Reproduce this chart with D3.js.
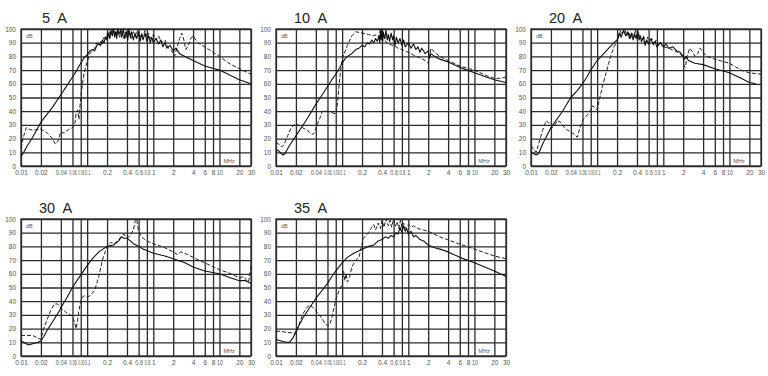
<!DOCTYPE html>
<html>
<head>
<meta charset="utf-8">
<script src="https://cdn.jsdelivr.net/npm/d3@7"></script>
<style>
  body { margin: 0; background: #fff; }
  svg { display: block; font-family: "Liberation Sans", Arial, sans-serif; }
</style>
</head>
<body>
<svg id="chart" width="768" height="376"></svg>
<script>
// titles of the five panels
var titles = ["5  A", "10  A", "20  A", "30  A", "35  A"];

// ticks on the axes
var xTicks = [0.01, 0.02, 0.04, 0.06, 0.08, 0.1, 0.2, 0.4, 0.6, 0.8, 1, 2, 4, 6, 8, 10, 20, 30];
var xTickLabels = ["0.01", "0.02", "0.04", "0.06", "0.08", "0.1", "0.2", "0.4", "0.6", "0.8", "1", "2", "4", "6", "8", "10", "20", "30"];
var yTicks = [0, 10, 20, 30, 40, 50, 60, 70, 80, 90, 100];

// [MHz, dB]
var solid5 = [[0.01,7],[0.011,10],[0.0125,15],[0.015,21],[0.02,32],[0.03,43],[0.04,52],[0.05,59],[0.06,65],[0.07,70],[0.08,75],[0.09,79],[0.1,81],[0.11,84],[0.12,85],[0.13,84],[0.14,88],[0.15,89],[0.16,88],[0.17,92],[0.18,90],[0.19,94],[0.2,92],[0.21,97],[0.22,93],[0.23,99],[0.24,95],[0.25,100],[0.26,94],[0.27,98],[0.28,93],[0.29,100],[0.3,96],[0.32,99],[0.33,94],[0.35,100],[0.37,93],[0.39,98],[0.41,92],[0.43,99],[0.45,94],[0.47,98],[0.5,92],[0.53,97],[0.56,93],[0.6,98],[0.63,91],[0.67,96],[0.7,92],[0.75,97],[0.8,91],[0.85,95],[0.9,90],[0.95,94],[1,90],[1.1,93],[1.2,89],[1.3,92],[1.4,87],[1.5,90],[1.6,86],[1.8,88],[2,84],[2.2,86],[2.5,82],[3,80],[4,77],[6,73],[10,70],[20,63],[30,60]];
var dashed5 = [[0.01,13],[0.011,22],[0.012,28],[0.013,27],[0.015,26],[0.02,27],[0.025,24],[0.03,20],[0.033,16],[0.036,18],[0.04,25],[0.045,24],[0.05,26],[0.06,28],[0.065,30],[0.068,38],[0.072,41],[0.075,34],[0.08,50],[0.085,60],[0.09,68],[0.1,76],[0.11,82],[0.12,84],[0.13,86],[0.14,90],[0.15,88],[0.16,91],[0.17,89],[0.18,94],[0.19,92],[0.2,97],[0.21,94],[0.22,99],[0.23,96],[0.25,100],[0.27,95],[0.29,100],[0.31,94],[0.33,99],[0.35,93],[0.38,98],[0.4,94],[0.43,100],[0.46,93],[0.5,98],[0.54,94],[0.58,99],[0.62,93],[0.66,97],[0.7,95],[0.75,99],[0.8,94],[0.85,97],[0.9,93],[1,96],[1.1,92],[1.2,95],[1.35,90],[1.5,92],[1.7,86],[1.9,84],[2.1,80],[2.3,87],[2.5,93],[2.7,97],[2.9,92],[3.1,85],[3.4,88],[3.7,93],[4,95],[4.4,92],[5,89],[6,87],[8,83],[10,80],[15,74],[20,71],[30,67]];

var solid10 = [[0.01,12],[0.011,11],[0.012,9],[0.013,8],[0.014,10],[0.016,15],[0.02,22],[0.025,29],[0.03,35],[0.04,45],[0.05,52],[0.06,58],[0.07,63],[0.08,67],[0.09,71],[0.1,75],[0.11,78],[0.12,80],[0.14,82],[0.16,85],[0.18,86],[0.2,88],[0.22,87],[0.24,90],[0.26,89],[0.28,92],[0.3,90],[0.32,93],[0.34,91],[0.36,95],[0.37,90],[0.38,99],[0.39,92],[0.4,100],[0.41,91],[0.42,97],[0.44,93],[0.46,99],[0.48,92],[0.5,96],[0.52,91],[0.55,97],[0.58,92],[0.6,95],[0.63,88],[0.66,94],[0.7,90],[0.75,93],[0.8,88],[0.85,92],[0.9,87],[1,90],[1.1,86],[1.2,89],[1.3,85],[1.4,87],[1.5,83],[1.6,86],[1.8,82],[2,84],[2.1,79],[2.2,82],[2.5,80],[3,78],[4,76],[6,72],[10,68],[15,65],[20,63],[30,61]];
var dashed10 = [[0.01,17],[0.011,16],[0.012,14],[0.013,15],[0.015,22],[0.017,28],[0.02,31],[0.025,28],[0.03,26],[0.035,23],[0.038,24],[0.042,30],[0.047,36],[0.05,40],[0.06,40],[0.07,39],[0.08,38],[0.085,45],[0.09,60],[0.095,70],[0.1,78],[0.12,88],[0.14,95],[0.16,98],[0.2,97],[0.25,96],[0.3,95],[0.33,96],[0.36,94],[0.38,100],[0.4,93],[0.42,98],[0.45,91],[0.48,90],[0.5,89],[0.6,88],[0.7,86],[0.8,85],[1,83],[1.2,81],[1.5,79],[1.8,77],[2,75],[2.1,79],[2.2,86],[2.5,83],[3,80],[4,77],[6,73],[10,70],[15,66],[20,64],[25,64],[30,65]];

var solid20 = [[0.01,10],[0.011,9],[0.012,8],[0.013,9],[0.015,16],[0.02,28],[0.03,40],[0.04,50],[0.05,55],[0.06,60],[0.07,65],[0.08,70],[0.1,77],[0.12,81],[0.15,86],[0.18,90],[0.2,92],[0.21,94],[0.22,97],[0.23,94],[0.25,99],[0.27,95],[0.29,98],[0.31,93],[0.33,97],[0.35,92],[0.37,96],[0.39,93],[0.41,99],[0.43,92],[0.45,95],[0.47,91],[0.5,94],[0.53,88],[0.56,92],[0.6,89],[0.65,93],[0.7,89],[0.75,91],[0.8,87],[0.9,90],[1,87],[1.1,89],[1.2,86],[1.4,87],[1.6,84],[1.8,83],[2,80],[2.1,78],[2.2,80],[2.4,77],[2.7,76],[3,75],[4,74],[6,71],[10,68],[15,64],[20,61],[25,60]];
var dashed20 = [[0.01,15],[0.011,12],[0.012,10],[0.013,16],[0.015,26],[0.017,33],[0.019,31],[0.021,28],[0.023,30],[0.025,33],[0.028,32],[0.032,28],[0.036,26],[0.04,25],[0.045,23],[0.05,21],[0.055,28],[0.06,33],[0.07,37],[0.08,41],[0.085,44],[0.09,43],[0.1,41],[0.11,50],[0.12,58],[0.14,70],[0.16,80],[0.18,87],[0.2,91],[0.21,95],[0.22,99],[0.24,96],[0.26,100],[0.28,95],[0.3,98],[0.32,93],[0.34,97],[0.36,94],[0.38,100],[0.4,93],[0.43,97],[0.46,91],[0.5,95],[0.54,90],[0.58,94],[0.62,89],[0.67,93],[0.72,88],[0.78,92],[0.85,88],[0.9,90],[1,87],[1.2,86],[1.5,84],[1.8,82],[2,79],[2.05,73],[2.15,72],[2.3,80],[2.5,86],[2.8,83],[3,80],[3.3,82],[3.6,86],[4,83],[4.5,80],[6,78],[10,75],[15,70],[20,68],[30,67]];

var solid30 = [[0.01,11],[0.011,10],[0.012,9],[0.013,8],[0.015,9],[0.018,10],[0.02,11],[0.022,14],[0.025,19],[0.03,25],[0.035,30],[0.04,35],[0.05,43],[0.06,50],[0.07,55],[0.08,59],[0.1,66],[0.12,71],[0.15,76],[0.2,80],[0.25,81],[0.3,84],[0.33,87],[0.36,86],[0.4,86],[0.45,84],[0.5,82],[0.55,81],[0.6,80],[0.7,78],[0.8,77],[1,75],[1.5,73],[2,71],[3,68],[4,65],[6,62],[10,60],[15,57],[20,55],[25,55],[30,53]];
var dashed30 = [[0.01,15],[0.012,15],[0.015,15],[0.018,13],[0.02,12],[0.022,20],[0.025,27],[0.028,33],[0.032,38],[0.036,38],[0.04,35],[0.045,33],[0.05,31],[0.055,30],[0.06,29],[0.065,24],[0.068,20],[0.072,27],[0.075,33],[0.08,40],[0.085,43],[0.09,44],[0.1,43],[0.11,44],[0.12,46],[0.13,48],[0.15,58],[0.17,70],[0.2,80],[0.23,83],[0.26,82],[0.3,85],[0.33,87],[0.36,89],[0.4,86],[0.45,88],[0.5,92],[0.53,98],[0.56,100],[0.58,95],[0.6,91],[0.65,88],[0.7,86],[0.8,84],[1,82],[1.5,79],[2,76],[2.3,74],[2.6,76],[3,75],[4,72],[6,68],[10,63],[15,60],[20,57],[23,58],[25,56],[27,54],[28,56],[30,66]];

var solid35 = [[0.01,12],[0.012,11],[0.014,10],[0.016,10],[0.018,13],[0.02,18],[0.025,27],[0.03,33],[0.04,42],[0.05,48],[0.06,53],[0.07,58],[0.08,62],[0.1,68],[0.12,72],[0.15,75],[0.2,78],[0.25,80],[0.3,81],[0.35,84],[0.4,85],[0.45,87],[0.5,86],[0.55,88],[0.6,87],[0.65,90],[0.7,89],[0.75,94],[0.8,90],[0.85,95],[0.9,91],[0.95,93],[1,89],[1.1,91],[1.2,87],[1.3,88],[1.5,85],[1.7,84],[2,81],[2.5,79],[3,78],[4,76],[6,72],[10,68],[20,62],[30,58]];
var dashed35 = [[0.01,18],[0.012,18],[0.015,17],[0.018,17],[0.02,16],[0.022,22],[0.025,30],[0.028,34],[0.03,36],[0.033,37],[0.037,35],[0.04,33],[0.045,30],[0.05,27],[0.055,24],[0.06,22],[0.065,23],[0.07,28],[0.075,35],[0.08,41],[0.09,48],[0.1,52],[0.105,62],[0.11,55],[0.115,60],[0.12,54],[0.13,58],[0.14,65],[0.16,70],[0.18,72],[0.2,82],[0.21,86],[0.23,88],[0.25,90],[0.28,94],[0.3,96],[0.32,92],[0.35,97],[0.38,93],[0.4,99],[0.43,94],[0.46,100],[0.5,95],[0.53,99],[0.56,94],[0.6,100],[0.64,95],[0.68,98],[0.72,93],[0.76,99],[0.8,94],[0.85,97],[0.9,93],[1,96],[1.1,94],[1.2,95],[1.4,93],[1.7,92],[2,91],[3,87],[5,83],[10,78],[20,73],[30,71]];

var solids = [solid5, solid10, solid20, solid30, solid35];
var dashes = [dashed5, dashed10, dashed20, dashed30, dashed35];

// panel placement
var w = 230, h = 137;
var lefts = [21, 276, 531, 21, 276];
var tops = [29, 29, 29, 219, 219];

var svg = d3.select("#chart");

var x = d3.scaleLog().domain([0.01, 30]).range([0, w]);
var y = d3.scaleLinear().domain([0, 100]).range([h, 0]);

var line = d3.line()
  .x(function(d){ return x(d[0]); })
  .y(function(d){ return y(d[1]); });

titles.forEach(function(t, i){
  var g = svg.append("g")
    .attr("transform", "translate(" + lefts[i] + "," + tops[i] + ")");

  // title
  g.append("text")
    .attr("x", i == 0 ? 21 : 18)
    .attr("y", -6)
    .style("font-size", "14.5px")
    .style("fill", "#222")
    .style("white-space", "pre")
    .text(t);

  // vertical grid + x labels
  var xa = g.append("g")
    .attr("transform", "translate(0," + h + ")")
    .call(d3.axisBottom(x)
      .tickValues(xTicks)
      .tickFormat(function(d, k){ return xTickLabels[k]; })
      .tickSize(-h)
      .tickPadding(4));

  // horizontal grid + y labels
  var ya = g.append("g")
    .call(d3.axisLeft(y)
      .tickValues(yTicks)
      .tickSize(-w)
      .tickPadding(5));

  [xa, ya].forEach(function(a){
    a.select(".domain").remove();
    a.selectAll("line")
      .attr("stroke", "#2b2b2b")
      .attr("stroke-width", 1.3);
    a.selectAll("text")
      .attr("fill", "#555")
      .style("font-size", "6.5px")
      .style("font-family", "'Liberation Sans', Arial, sans-serif");
  });

  // squeeze crowded x labels (0.06 0.08 0.1 etc.) so they run together like the original
  xa.selectAll(".tick text").each(function(d, k){
    var gapL = k > 0 ? x(d) - x(xTicks[k - 1]) : 99;
    var gapR = k < xTicks.length - 1 ? x(xTicks[k + 1]) - x(d) : 99;
    var room = Math.min(gapL, gapR) - 0.6;
    var len = this.getComputedTextLength();
    if (len > room) {
      d3.select(this)
        .attr("textLength", room)
        .attr("lengthAdjust", "spacingAndGlyphs");
    }
  });

  g.append("rect")
    .attr("width", w)
    .attr("height", h)
    .attr("fill", "none")
    .attr("stroke", "#2b2b2b")
    .attr("stroke-width", 1.3);

  g.append("text")
    .attr("x", 5)
    .attr("y", 9)
    .style("font-size", "5.5px")
    .style("fill", "#555")
    .text("dB");

  g.append("text")
    .attr("x", x(10) + 4)
    .attr("y", h - 3)
    .style("font-size", "5.5px")
    .style("fill", "#555")
    .text("MHz");

  g.append("path")
    .datum(dashes[i])
    .attr("fill", "none")
    .attr("stroke", "#222")
    .attr("stroke-width", 1)
    .attr("stroke-dasharray", "4,2")
    .attr("d", line);

  g.append("path")
    .datum(solids[i])
    .attr("fill", "none")
    .attr("stroke", "#111")
    .attr("stroke-width", 1.1)
    .attr("stroke-linejoin", "round")
    .attr("d", line);
});
</script>
</body>
</html>
